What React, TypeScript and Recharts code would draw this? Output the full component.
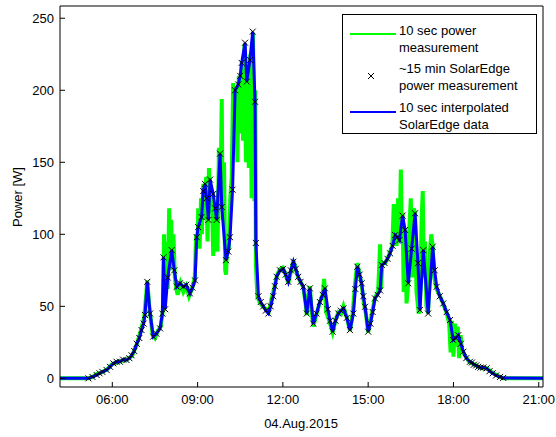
import { LineChart, Line, XAxis, YAxis, Legend } from "recharts";

// 10 sec power measurement (hours of day, W)
const measTimes = [
  4.16, 5.15, 5.3, 5.45, 5.6, 5.8, 6.0, 6.15, 6.3, 6.5, 6.6, 6.7, 6.85, 7.0, 7.12, 7.2, 7.23, 7.3,
  7.42, 7.5, 7.6, 7.7, 7.78, 7.82, 7.85, 7.9, 7.95, 8.0, 8.03, 8.07, 8.1, 8.15, 8.2, 8.25, 8.3,
  8.4, 8.5, 8.6, 8.7, 8.8, 8.9, 8.95, 9.0, 9.02, 9.07, 9.12, 9.15, 9.2, 9.25, 9.3, 9.35, 9.4,
  9.45, 9.5, 9.55, 9.6, 9.65, 9.7, 9.75, 9.8, 9.85, 9.88, 9.93, 9.97, 10.0, 10.05, 10.1, 10.15,
  10.2, 10.25, 10.3, 10.35, 10.4, 10.45, 10.5, 10.55, 10.6, 10.65, 10.7, 10.75, 10.8, 10.85,
  10.9, 10.95, 11.0, 11.03, 11.05, 11.1, 11.2, 11.3, 11.4, 11.5, 11.6, 11.7, 11.8, 11.9, 12.0,
  12.1, 12.19, 12.3, 12.37, 12.45, 12.54, 12.65, 12.72, 12.8, 12.84, 12.9, 12.95, 13.0, 13.07,
  13.15, 13.3, 13.4, 13.45, 13.48, 13.52, 13.6, 13.75, 13.85, 13.95, 14.05, 14.13, 14.25, 14.36,
  14.45, 14.55, 14.62, 14.7, 14.77, 14.85, 14.92, 15.0, 15.1, 15.24, 15.35, 15.42, 15.45, 15.5,
  15.6, 15.7, 15.77, 15.85, 15.9, 15.95, 16.0, 16.05, 16.1, 16.15, 16.18, 16.21, 16.25, 16.3,
  16.35, 16.41, 16.45, 16.5, 16.55, 16.6, 16.65, 16.7, 16.78, 16.82, 16.88, 16.92, 16.96, 17.0,
  17.05, 17.11, 17.18, 17.22, 17.27, 17.32, 17.41, 17.5, 17.64, 17.75, 17.85, 17.9, 17.95, 18.0,
  18.05, 18.1, 18.15, 18.2, 18.25, 18.3, 18.4, 18.5, 18.58, 18.7, 18.87, 19.0, 19.17, 19.3,
  19.45, 19.64, 19.75, 21.15,
];
const measPower = [
  0, 0, 1, 3, 4, 6, 10, 11, 12, 13, 14, 16, 23, 33, 42, 60, 68, 50,
  30, 28, 33, 36, 47, 100, 60, 95, 62, 118, 75, 110, 88, 100, 70, 62, 58,
  66, 60, 64, 57, 62, 70, 100, 92, 118, 90, 125, 100, 135, 110, 140, 95, 146,
  115, 130, 85, 120, 105, 88, 160, 120, 194, 110, 150, 75, 72, 100, 90, 125,
  140, 205, 165, 200, 150, 210, 170, 220, 165, 232, 150, 215, 146, 225,
  125, 239, 123, 200, 80, 57, 52, 50, 48, 46, 55, 63, 72, 76, 77,
  72, 66, 76, 82, 76, 70, 66, 63, 52, 44, 58, 64, 50, 36,
  42, 53, 58, 69, 60, 46, 42, 32, 40, 46, 45, 50, 42, 33,
  44, 68, 80, 72, 65, 52, 45, 32, 42, 56, 60, 93, 62, 80,
  80, 84, 88, 92, 121, 100, 92, 125, 95, 145, 104, 115, 60, 103,
  52, 66, 105, 125, 70, 118, 115, 60, 45, 48, 110, 130, 70, 95,
  50, 45, 90, 100, 92, 70, 62, 58, 52, 46, 38, 18, 40, 15,
  38, 22, 36, 14, 30, 20, 16, 13, 11, 10, 8, 7, 7, 5,
  3, 1, 0, 0,
];

// ~15 min SolarEdge power measurement
const seTimes = [
  5.16, 5.3, 5.45, 5.55, 5.65, 5.8, 5.92, 6.04, 6.15, 6.27, 6.38, 6.5, 6.6, 6.68, 6.77, 6.86,
  6.95, 7.03, 7.1, 7.15, 7.23, 7.33, 7.44, 7.55, 7.68, 7.76, 7.8, 7.86, 7.95, 8.09, 8.18, 8.27,
  8.38, 8.5, 8.6, 8.73, 8.82, 8.91, 8.97, 9.02, 9.14, 9.2, 9.26, 9.32, 9.38, 9.44, 9.55, 9.62,
  9.67, 9.79, 9.85, 10.0, 10.08, 10.14, 10.23, 10.32, 10.43, 10.5, 10.55, 10.67, 10.73, 10.84,
  10.94, 11.02, 11.05, 11.14, 11.22, 11.31, 11.4, 11.49, 11.57, 11.66, 11.72, 11.78, 11.9, 12.01,
  12.1, 12.19, 12.28, 12.37, 12.45, 12.54, 12.62, 12.72, 12.84, 12.95, 13.07, 13.18, 13.3, 13.4,
  13.48, 13.58, 13.66, 13.75, 13.85, 13.95, 14.04, 14.13, 14.25, 14.36, 14.48, 14.55, 14.62,
  14.7, 14.77, 14.83, 14.89, 15.0, 15.08, 15.16, 15.24, 15.33, 15.42, 15.48, 15.58, 15.68, 15.77,
  15.86, 15.95, 16.03, 16.1, 16.21, 16.3, 16.41, 16.53, 16.65, 16.75, 16.82, 16.94, 17.11, 17.27,
  17.34, 17.41, 17.52, 17.64, 17.76, 17.88, 17.99, 18.08, 18.17, 18.26, 18.35, 18.45, 18.58,
  18.65, 18.72, 18.8, 18.87, 18.95, 19.05, 19.17, 19.27, 19.38, 19.5, 19.64, 19.75,
];
const sePower = [
  0, 1, 2.3, 3.5, 4.5, 5.8, 8, 10.4, 11.5, 11.5, 13, 12.7, 14, 16, 19, 24,
  28, 33.5, 38, 44, 67, 45, 29, 31, 34.7, 45, 84, 48, 70, 89, 75, 63.6,
  66, 63.6, 65, 59, 63, 68, 98, 105, 112, 130, 135, 125, 110, 138, 128, 118,
  110, 156, 119, 82, 88, 98, 131, 200, 204, 210, 219, 233, 206, 221,
  240.7, 192, 94, 57, 53, 50, 47, 45, 50, 57, 64, 70.5, 75, 76,
  72, 67, 75, 81, 76, 70.5, 67, 63.6, 45, 62.5, 38, 45, 53, 58,
  62.5, 48, 40, 32.4, 40, 45, 47, 48.6, 42, 33.5, 45, 62, 77.5,
  72, 66, 57, 49.7, 32.4, 38, 46, 55.5, 58, 61, 78.7, 80, 83, 86.8,
  92, 99.5, 98, 96, 113, 103, 66, 90, 114.6, 80, 47.4, 89, 45, 91.4,
  75, 63.6, 57, 52, 46, 40.5, 26.6, 28, 30, 24, 18.5, 14, 11.5,
  11, 9.5, 9, 8, 7.5, 7.5, 7, 5, 3.5, 2, 1, 0.3,
];

const hourTicks = [6, 9, 12, 15, 18, 21];
const powerTicks = [0, 50, 100, 150, 200, 250];
const xStart = 4.16;
const xEnd = 21.15;

const measured = measTimes.map((t, i) => ({ t, p: measPower[i] }));
const solarEdge = seTimes.map((t, i) => ({ t, p: sePower[i] }));
const interpolated = [{ t: xStart, p: 0 }, ...solarEdge, { t: xEnd, p: 0 }];

const font = "'Liberation Sans', Arial, Helvetica, sans-serif";
const hourLabel = (h: number) => `${h < 10 ? "0" : ""}${h}:00`;

const XMark = (props: any) => {
  const { cx, cy, index } = props;
  if (cx == null || cy == null) return <g key={index} />;
  return (
    <path
      key={index}
      d={`M${cx - 3},${cy - 3}L${cx + 3},${cy + 3}M${cx + 3},${cy - 3}L${cx - 3},${cy + 3}`}
      stroke="#000"
      strokeWidth={1}
      fill="none"
    />
  );
};

const legendRows = [
  { top: 8, lines: ["10 sec power", "measurement"] },
  { top: 46, lines: ["~15 min SolarEdge", "power measurement"] },
  { top: 85, lines: ["10 sec interpolated", "SolarEdge data"] },
];

const LegendBox = () => (
  <div
    style={{
      position: "relative",
      width: 193,
      height: 118,
      border: "1px solid #000",
      background: "#fff",
      fontFamily: font,
      fontSize: 13,
      color: "#000",
    }}
  >
    <svg width={60} height={118} style={{ position: "absolute", left: 0, top: 0 }}>
      <line x1={7} x2={53} y1={19} y2={19} stroke="#00ff00" strokeWidth={2} />
      <XMark cx={28} cy={61} index="lm" />
      <line x1={7} x2={53} y1={97} y2={97} stroke="#0000ff" strokeWidth={2} />
    </svg>
    {legendRows.map((row, i) => (
      <div key={i} style={{ position: "absolute", left: 56, top: row.top, lineHeight: "16.5px" }}>
        {row.lines.map((l) => (
          <div key={l}>{l}</div>
        ))}
      </div>
    ))}
  </div>
);

export default function App() {
  return (
    <div style={{ position: "absolute", left: 0, top: 0, background: "#fff" }}>
      <LineChart width={556} height={437} margin={{ top: 5, right: 12, bottom: 0, left: 0 }}>
        <XAxis
          dataKey="t"
          type="number"
          domain={[xStart, xEnd]}
          allowDataOverflow
          ticks={hourTicks}
          tickFormatter={hourLabel}
          height={50}
          tickSize={-5}
          tickMargin={13}
          stroke="#000"
          tick={{ fill: "#000", fontSize: 13, fontFamily: font }}
          label={{
            content: () => (
              <text x={301} y={428} textAnchor="middle" fontSize={13} fontFamily={font} fill="#000">
                04.Aug.2015
              </text>
            ),
          }}
        />
        <XAxis
          xAxisId="top"
          orientation="top"
          dataKey="t"
          type="number"
          domain={[xStart, xEnd]}
          allowDataOverflow
          ticks={hourTicks}
          height={1}
          tickSize={-5}
          tick={false}
          stroke="#000"
        />
        <YAxis
          type="number"
          domain={[-6, 258.5]}
          allowDataOverflow
          ticks={powerTicks}
          width={60}
          tickSize={-5}
          tickMargin={11}
          stroke="#000"
          tick={{ fill: "#000", fontSize: 13, fontFamily: font }}
          label={{
            content: () => (
              <text
                x={22}
                y={197}
                transform="rotate(-90 22 197)"
                textAnchor="middle"
                fontSize={13}
                fontFamily={font}
                fill="#000"
              >
                Power [W]
              </text>
            ),
          }}
        />
        <YAxis
          yAxisId="r"
          orientation="right"
          type="number"
          domain={[-6, 258.5]}
          allowDataOverflow
          ticks={powerTicks}
          width={1}
          tickSize={-5}
          tick={false}
          stroke="#000"
        />
        <Legend
          layout="vertical"
          align="center"
          verticalAlign="middle"
          wrapperStyle={{ left: 342, top: 14, width: 195, height: 120 }}
          content={() => <LegendBox />}
        />
        <Line
          data={measured}
          dataKey="p"
          stroke="#00ff00"
          strokeWidth={4}
          dot={false}
          activeDot={false}
          isAnimationActive={false}
          type="linear"
        />
        <Line
          data={solarEdge}
          dataKey="p"
          stroke="none"
          dot={XMark}
          activeDot={false}
          isAnimationActive={false}
          type="linear"
        />
        <Line
          data={interpolated}
          dataKey="p"
          stroke="#0000ff"
          strokeWidth={3}
          dot={false}
          activeDot={false}
          isAnimationActive={false}
          type="linear"
        />
      </LineChart>
    </div>
  );
}
